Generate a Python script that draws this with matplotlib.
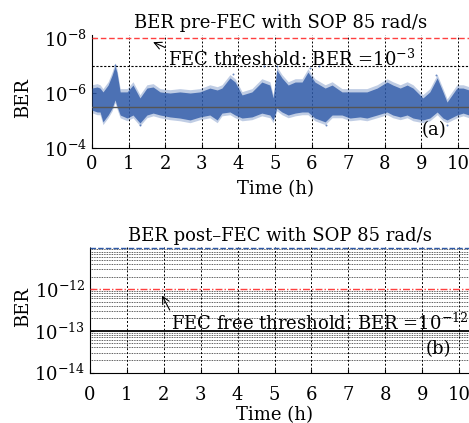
"""
BER pre-FEC / post-FEC over time with SOP 85 rad/s.
"""

import numpy as np
import matplotlib
matplotlib.use('Agg')
import matplotlib.pyplot as plt
from matplotlib.ticker import FixedLocator, FuncFormatter, NullLocator

plt.rcParams['font.family'] = ['DejaVu Serif']
plt.rcParams['mathtext.fontset'] = 'dejavuserif'

# ---- data (log10 BER) ----
t_pre = [0.00, 0.14, 0.22, 0.30, 0.44, 0.55, 0.63, 0.68, 0.77, 0.96, 1.12, 1.31,
         1.50, 1.67, 1.86, 2.13, 2.40, 2.68, 2.95, 3.22, 3.42, 3.55, 3.77, 3.91,
         4.10, 4.37, 4.64, 4.86, 4.95, 5.05, 5.19, 5.36, 5.55, 5.74, 5.90, 6.09,
         6.37, 6.56, 6.83, 7.05, 7.32, 7.51, 7.79, 8.06, 8.22, 8.42, 8.61, 8.77,
         9.04, 9.23, 9.43, 9.59, 9.70, 9.97, 10.14, 10.30]
# lowest BER of the dense cloud (upper edge on the inverted axis)
log_ber_low = [-6.18, -6.22, -6.18, -6.04, -6.29, -6.65, -6.98, -6.76, -6.04, -6.04,
               -6.29, -5.82, -6.18, -6.22, -6.04, -6.00, -6.04, -6.00, -6.04, -6.18,
               -6.11, -6.18, -6.55, -6.40, -5.93, -6.04, -6.40, -6.29, -5.82, -6.84,
               -6.55, -6.29, -6.40, -6.40, -6.76, -6.40, -6.18, -6.29, -6.04, -6.04,
               -6.04, -6.04, -6.18, -6.40, -6.29, -6.18, -6.29, -6.18, -5.82, -6.04,
               -6.55, -6.04, -5.67, -6.18, -6.18, -6.11]
# highest BER of the dense cloud
log_ber_high = [-5.38, -5.31, -5.31, -4.95, -5.20, -5.45, -5.75, -5.53, -5.20, -5.09,
                -5.20, -4.91, -5.20, -5.27, -5.20, -5.13, -5.09, -5.02, -5.13, -5.20,
                -5.02, -5.27, -5.31, -5.20, -5.09, -5.13, -5.27, -5.20, -5.02, -5.45,
                -5.31, -5.20, -5.27, -5.31, -5.31, -5.09, -4.95, -5.20, -5.20, -5.09,
                -5.13, -5.09, -5.20, -5.31, -5.20, -5.13, -5.20, -5.09, -5.02, -5.09,
                -5.31, -5.09, -5.02, -5.20, -5.27, -5.20]
# isolated outliers
t_out = [0.63, 4.70, 5.05, 6.20, 9.40, 1.30, 6.40, 9.70, 3.85, 5.95]
log_ber_out = [-7.02, -7.00, -7.00, -7.00, -6.65, -4.84, -4.84, -4.84, -6.70, -6.90]

log_ber_mean = -5.5
fec_threshold = 1e-8
ref_level = 1e-7

t_post = [0.0, 10.3]
ber_post = [1e-11, 1e-11]
fec_free_threshold = 1e-12
ref_level_post = 1e-13

hours = list(range(0, 11))
blue = '#2f5aa8'
fs = 13


def sci_label(v, pos):
    return r'$10^{%d}$' % int(round(np.log10(v)))


fig = plt.figure(figsize=(4.69, 4.23), dpi=100)

# ---------------- (a) pre-FEC ----------------
ax1 = fig.add_axes([92 / 469, 1 - 148 / 423, 1 - 92 / 469, 113 / 423])
ax1.set_yscale('log')
ax1.set_ylim(1e-4, 10 ** -8.11)
ax1.set_xlim(0, 10.30)

lo = 10 ** np.array(log_ber_low)
hi = 10 ** np.array(log_ber_high)
ax1.fill_between(t_pre, lo * 10 ** -0.12, hi * 10 ** 0.10, color=blue, alpha=0.3,
                 linewidth=0, zorder=2)
ax1.fill_between(t_pre, lo, hi, color=blue, alpha=0.8, linewidth=0, zorder=3)
ax1.scatter(t_out, 10 ** np.array(log_ber_out), s=2, color=blue, alpha=0.7,
            linewidths=0, zorder=3)

for h in hours:
    ax1.axvline(h, color='black', linestyle=(0, (2, 2)), linewidth=0.7, zorder=1)
ax1.axhline(ref_level, color='black', linestyle=(0, (2, 1.5)), linewidth=0.8, zorder=1)
ax1.axhline(10 ** log_ber_mean, color='#555555', linewidth=1.0, zorder=4)
ax1.axhline(fec_threshold, color='#ff4040', linestyle=(0, (4, 2)), linewidth=1.0,
            zorder=5)

ax1.annotate(r'FEC threshold: BER =$10^{-3}$', xy=(1.67, 10 ** -7.85),
             xytext=(2.08, 10 ** -6.98), fontsize=fs, va='baseline', ha='left',
             arrowprops=dict(arrowstyle='->', color='black', lw=0.8,
                             shrinkA=0, shrinkB=0, relpos=(0, 1)))
ax1.text(9.34, 10 ** -4.65, '(a)', fontsize=fs, ha='center', va='center')

ax1.set_title('BER pre-FEC with SOP 85 rad/s', fontsize=fs, pad=5)
ax1.yaxis.set_major_locator(FixedLocator([1e-8, 1e-6, 1e-4]))
ax1.yaxis.set_major_formatter(FuncFormatter(sci_label))
ax1.yaxis.set_minor_locator(NullLocator())
ax1.set_xticks(hours)
ax1.tick_params(axis='both', direction='in', length=3, labelsize=fs, width=0.8)
ax1.tick_params(axis='x', pad=5)
ax1.set_xlabel('Time (h)', fontsize=fs)
ax1.set_ylabel('BER', fontsize=fs)
ax1.xaxis.set_label_coords(0.488, -0.28)
ax1.yaxis.set_label_coords(-0.159, 0.44)
for side in ['top', 'right']:
    ax1.spines[side].set_visible(False)

# ---------------- (b) post-FEC ----------------
ax2 = fig.add_axes([90 / 469, 1 - 372.5 / 423, 1 - 90 / 469, 125 / 423])
ax2.set_yscale('log')
ax2.set_ylim(1e-14, 1e-11)
ax2.set_xlim(0, 10.27)

ax2.yaxis.set_major_locator(FixedLocator([1e-14, 1e-13, 1e-12]))
ax2.yaxis.set_major_formatter(FuncFormatter(sci_label))
minor = [m * 10.0 ** e for e in (-14, -13, -12) for m in range(2, 10)]
ax2.yaxis.set_minor_locator(FixedLocator(minor))
ax2.grid(True, which='minor', axis='y', color='black', linestyle=(0, (1, 1)),
         linewidth=0.6, alpha=0.85)
ax2.tick_params(axis='y', which='minor', length=0)
for h in hours:
    ax2.axvline(h, color='black', linestyle=(0, (2, 2)), linewidth=0.7, zorder=1)
ax2.axhline(ref_level_post, color='black', linewidth=1.3, zorder=2)
ax2.axhline(fec_free_threshold, color='#ff4040', linestyle=(0, (5, 1.5, 1, 1.5)),
            linewidth=1.0, zorder=4)
ax2.plot(t_post, ber_post, color=blue, linestyle=(0, (4, 1.5)), linewidth=1.0,
         clip_on=False, zorder=5)

ax2.annotate(r'FEC free threshold: BER =$10^{-12}$', xy=(1.95, 10 ** -12.15),
             xytext=(2.2, 10 ** -12.98), fontsize=fs, va='baseline', ha='left',
             arrowprops=dict(arrowstyle='->', color='black', lw=0.8,
                             shrinkA=0, shrinkB=0, relpos=(0, 1)))
ax2.text(9.43, 10 ** -13.43, '(b)', fontsize=fs, ha='center', va='center')

ax2.set_title('BER post\u2013FEC with SOP 85 rad/s', fontsize=fs, pad=5)
ax2.set_xticks(hours)
ax2.tick_params(axis='both', which='major', direction='in', length=3,
                labelsize=fs, width=0.8)
ax2.tick_params(axis='x', pad=10)
ax2.set_xlabel('Time (h)', fontsize=fs)
ax2.set_ylabel('BER', fontsize=fs)
ax2.xaxis.set_label_coords(0.488, -0.265)
ax2.yaxis.set_label_coords(-0.153, 0.525)
for side in ['top', 'right']:
    ax2.spines[side].set_visible(False)

fig.savefig('out.png', dpi=100)
